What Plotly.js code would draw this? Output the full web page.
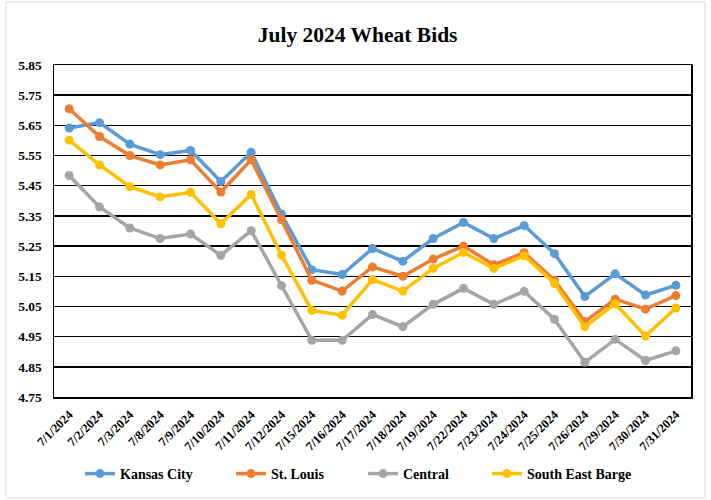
<!DOCTYPE html>
<html>
<head>
<meta charset="utf-8">
<script src="https://cdn.plot.ly/plotly-3.0.1.min.js"></script>
<style>html,body{margin:0;padding:0;background:#fff;}#chart{width:711px;height:500px;}</style>
</head>
<body>
<div id="chart"></div>
<script>
const dates = ["7/1/2024","7/2/2024","7/3/2024","7/8/2024","7/9/2024","7/10/2024","7/11/2024","7/12/2024","7/15/2024","7/16/2024","7/17/2024","7/18/2024","7/19/2024","7/22/2024","7/23/2024","7/24/2024","7/25/2024","7/26/2024","7/29/2024","7/30/2024","7/31/2024"];
const kansasCity = [5.641,5.659,5.588,5.553,5.567,5.464,5.561,5.356,5.172,5.156,5.242,5.200,5.275,5.328,5.275,5.318,5.225,5.083,5.158,5.088,5.120];
const stLouis = [5.705,5.613,5.550,5.519,5.536,5.429,5.536,5.337,5.137,5.101,5.181,5.150,5.207,5.250,5.188,5.228,5.137,5.000,5.074,5.041,5.086];
const central = [5.484,5.380,5.310,5.275,5.290,5.219,5.301,5.119,4.938,4.938,5.023,4.983,5.057,5.110,5.057,5.100,5.007,4.865,4.941,4.871,4.903];
const southEastBarge = [5.601,5.519,5.447,5.413,5.428,5.324,5.421,5.220,5.037,5.021,5.139,5.101,5.176,5.229,5.176,5.218,5.126,4.983,5.059,4.952,5.045];
const seriesNames = ["Kansas City","St. Louis","Central","South East Barge"];
const yTicks = [4.75,4.85,4.95,5.05,5.15,5.25,5.35,5.45,5.55,5.65,5.75,5.85];

const colors = ["#5B9BD5","#ED7D31","#A5A5A5","#FFC000"];
const serif = "Liberation Serif";
const allSeries = [kansasCity, stLouis, central, southEastBarge];
const legendIds = ["legend","legend2","legend3","legend4"];
const legendX = [80, 231, 363, 487];

const traces = allSeries.map((vals, i) => ({
  type: "scatter",
  mode: "lines+markers",
  x: dates,
  y: vals,
  name: seriesNames[i],
  legend: legendIds[i],
  showlegend: true,
  line: {color: colors[i], width: 3.5},
  marker: {color: colors[i], size: 9},
  cliponaxis: false
}));

const layout = {
  width: 711,
  height: 500,
  showlegend: true,
  margin: {l: 54, r: 20, t: 65, b: 103},
  paper_bgcolor: "#fff",
  plot_bgcolor: "#fff",
  font: {family: serif, color: "#000", weight: 700},
  title: {
    text: "July 2024 Wheat Bids",
    font: {family: serif, size: 21.5, color: "#000", weight: 700},
    x: 0.503, xanchor: "center", xref: "container",
    y: 1 - 34/500, yanchor: "middle", yref: "container"
  },
  xaxis: {
    type: "category",
    range: [-0.5, dates.length - 0.5],
    tickangle: -45,
    tickfont: {family: serif, size: 12.5, color: "#000", weight: 700},
    showgrid: false,
    showline: true, linecolor: "#000", linewidth: 1.5, mirror: true,
    ticks: "", ticklabelstandoff: 4,
    fixedrange: true
  },
  yaxis: {
    range: [4.75, 5.85],
    tickvals: yTicks,
    ticktext: yTicks.map(v => v.toFixed(2)),
    tickfont: {family: serif, size: 13.5, color: "#000", weight: 700},
    showgrid: true, gridcolor: "#000", gridwidth: 1.5,
    showline: true, linecolor: "#000", linewidth: 1.5, mirror: true,
    zeroline: false, ticks: "", ticklabelstandoff: 8,
    fixedrange: true
  },
  shapes: [{
    type: "rect", xref: "paper", yref: "paper",
    x0: (6-54)/637, x1: (705-54)/637,
    y0: (397-498)/332, y1: (397-2)/332,
    line: {color: "#D9D9D9", width: 1}, fillcolor: "rgba(0,0,0,0)", layer: "below"
  }]
};

legendIds.forEach((id, i) => {
  layout[id] = {
    visible: true,
    orientation: "h",
    xref: "container", yref: "container",
    x: legendX[i]/711, xanchor: "left",
    y: 1 - 474/500, yanchor: "middle",
    bgcolor: "rgba(0,0,0,0)", borderwidth: 0,
    font: {family: serif, size: 14, color: "#000", weight: 700},
    itemwidth: 30
  };
});

Plotly.newPlot("chart", traces, layout, {displayModeBar: false, staticPlot: true});
</script>
</body>
</html>
